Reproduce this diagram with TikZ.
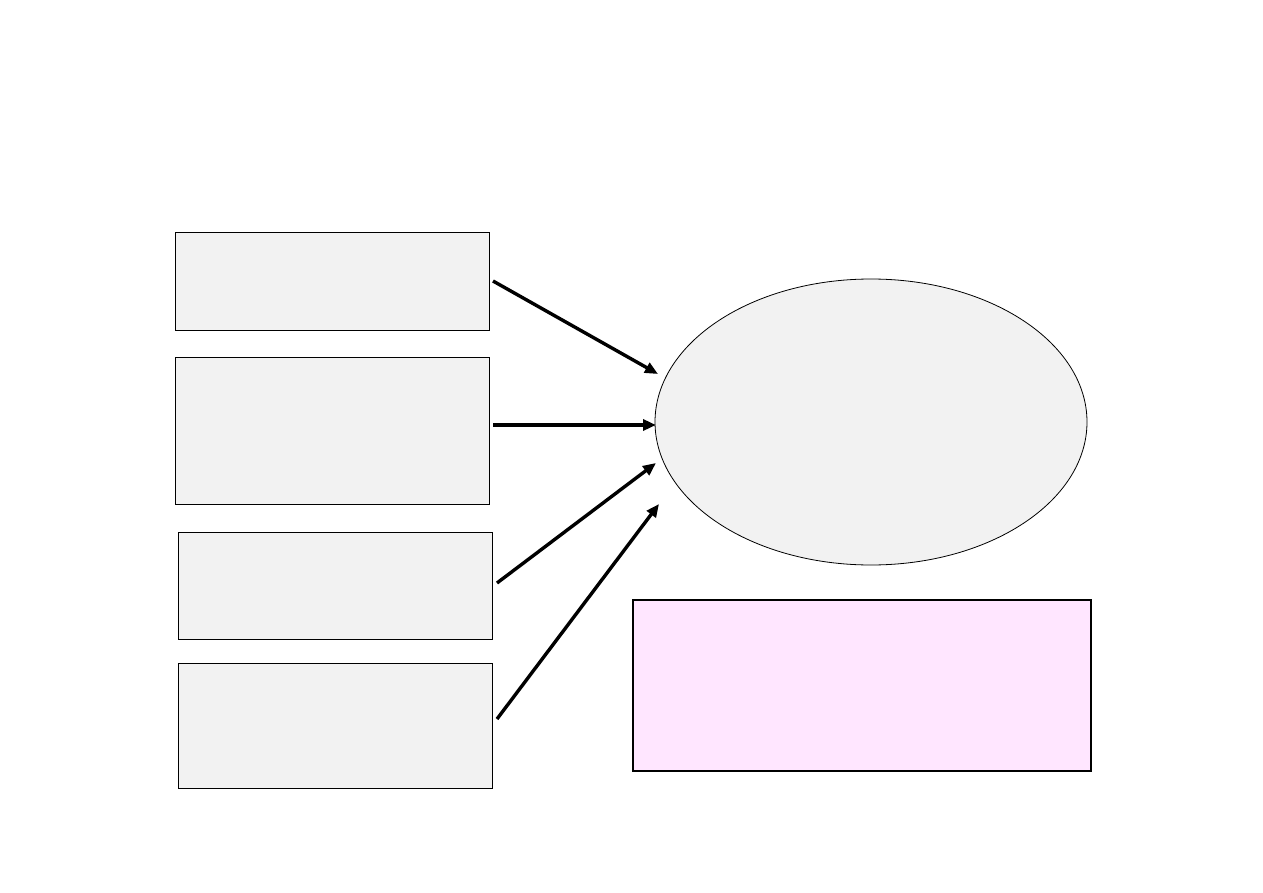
\documentclass[tikz,border=0pt]{standalone}
\usetikzlibrary{shapes.geometric,arrows.meta}
\definecolor{boxgray}{HTML}{F2F2F2}
\definecolor{boxpink}{HTML}{FFE6FF}
\begin{document}
\begin{tikzpicture}[x=1pt,y=-1pt,
  graybox/.style={draw=black,line width=0.8pt,fill=boxgray,inner sep=0pt,anchor=north west},
  conn/.style={line width=3.4pt,-{Triangle[length=13pt,width=11pt]}}]
\useasboundingbox (0,0) rectangle (1263,893);
\fill[white] (0,0) rectangle (1263,893);
\node[graybox,minimum width=314pt,minimum height=98pt] (A) at (175,232) {};
\node[graybox,minimum width=314pt,minimum height=147pt] (B) at (175,357) {};
\node[graybox,minimum width=314pt,minimum height=107pt] (C) at (178,532) {};
\node[graybox,minimum width=314pt,minimum height=125pt] (D) at (178,663) {};
\node[draw=black,line width=0.8pt,fill=boxgray,ellipse,minimum width=432pt,minimum height=286pt,inner sep=0pt] (E) at (871,422) {};
\node[draw=black,line width=1.8pt,fill=boxpink,inner sep=0pt,anchor=north west,minimum width=458pt,minimum height=171pt] (P) at (632,599) {};
\coordinate (a1) at (493,281);
\coordinate (b1) at (493,425);
\coordinate (c1) at (497,583);
\coordinate (d1) at (497,719);
\coordinate (a2) at (658,374);
\coordinate (b2) at (656,425);
\coordinate (c2) at (656,463);
\coordinate (d2) at (659,504);
\draw[conn] (a1) -- (a2);
\draw[conn] (b1) -- (b2);
\draw[conn] (c1) -- (c2);
\draw[conn] (d1) -- (d2);
\end{tikzpicture}
\end{document}
